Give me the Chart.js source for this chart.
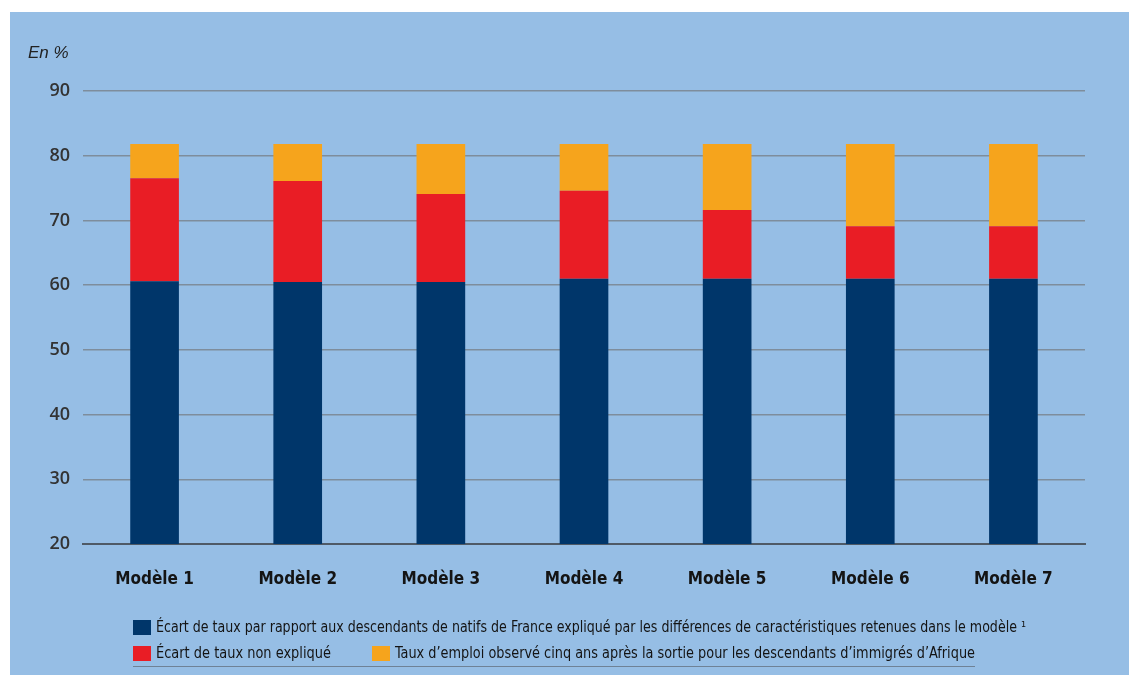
<!DOCTYPE html>
<html>
<head>
<meta charset="utf-8">
<script src="https://cdn.jsdelivr.net/npm/chart.js@4.4.1/dist/chart.umd.min.js"></script>
<style>
  html, body { margin: 0; padding: 0; background: #fff; }
  #wrap { position: relative; width: 1129px; height: 675px; }
</style>
</head>
<body>
<div id="wrap"><canvas id="chart" width="1129" height="675"></canvas></div>
<script>
const categories = ["Modèle 1", "Modèle 2", "Modèle 3", "Modèle 4", "Modèle 5", "Modèle 6", "Modèle 7"];
const ecartExplique = [60.6, 60.5, 60.5, 61.0, 61.0, 61.0, 61.0];
const ecartNonExplique = [15.9, 15.6, 13.6, 13.6, 10.6, 8.1, 8.1];
const tauxEmploi = [5.3, 5.7, 7.7, 7.2, 10.2, 12.7, 12.7];
const yTicks = [20, 30, 40, 50, 60, 70, 80, 90];

const labelExplique = "Écart de taux par rapport aux descendants de natifs de France expliqué par les différences de caractéristiques retenues dans le modèle ¹";
const labelNonExplique = "Écart de taux non expliqué";
const labelTaux = "Taux d’emploi observé cinq ans après la sortie pour les descendants d’immigrés d’Afrique";

const narrow = "'Liberation Sans Narrow', 'DejaVu Sans Condensed', sans-serif";

// panel background + white strip on top
const panelBg = {
    id: "panelBg",
    beforeDraw: function(chart) {
        let ctx = chart.ctx;
        ctx.save();
        ctx.fillStyle = "#ffffff";
        ctx.fillRect(0, 0, chart.width, chart.height);
        ctx.fillStyle = "#96bee5";
        ctx.fillRect(10, 12, chart.width - 10, chart.height - 12);
        ctx.restore();
    }
};

// "En %" unit label and the two-row legend
const extras = {
    id: "extras",
    afterDraw: function(chart) {
        let ctx = chart.ctx;
        ctx.save();
        ctx.fillStyle = "#222";
        ctx.font = "italic 17px 'Liberation Sans', sans-serif";
        ctx.textBaseline = "alphabetic";
        ctx.fillText("En %", 28, 58);

        let slots = [
            {x: 133, y: 620, w: 870},
            {x: 133, y: 646, w: 175},
            {x: 372, y: 646, w: 580}
        ];
        ctx.font = "15px " + narrow;
        ctx.textBaseline = "middle";
        chart.data.datasets.forEach(function(ds, i) {
            let s = slots[i];
            ctx.fillStyle = ds.backgroundColor;
            ctx.fillRect(s.x, s.y, 18, 15);
            let m = ctx.measureText(ds.label).width;
            ctx.save();
            ctx.translate(s.x + 23, s.y + 8);
            ctx.scale(s.w / m, 1);
            ctx.fillStyle = "#141414";
            ctx.fillText(ds.label, 0, 0);
            ctx.restore();
        });

        ctx.strokeStyle = "#6f8296";
        ctx.lineWidth = 1;
        ctx.beginPath();
        ctx.moveTo(133, 666.5);
        ctx.lineTo(975, 666.5);
        ctx.stroke();
        ctx.restore();
    }
};

new Chart(document.getElementById("chart").getContext("2d"), {
    type: "bar",
    data: {
        labels: categories,
        datasets: [
            {label: labelExplique, data: ecartExplique, backgroundColor: "#00366a"},
            {label: labelNonExplique, data: ecartNonExplique, backgroundColor: "#e91d25"},
            {label: labelTaux, data: tauxEmploi, backgroundColor: "#f6a41c"}
        ]
    },
    options: {
        responsive: false,
        animation: false,
        datasets: {
            bar: {barPercentage: 0.34, categoryPercentage: 1}
        },
        layout: {
            padding: {left: 0, right: 44, top: 91, bottom: 76}
        },
        plugins: {
            legend: {display: false},
            tooltip: {enabled: false}
        },
        scales: {
            x: {
                stacked: true,
                grid: {display: false},
                border: {display: true, color: "#4f5a66", width: 2},
                ticks: {
                    color: "#141414",
                    padding: 17,
                    font: {family: narrow, size: 17, weight: "bold"}
                },
                afterFit: function(scale) { scale.height = 55; }
            },
            y: {
                stacked: true,
                min: 20,
                max: 90,
                border: {display: false},
                grid: {
                    drawTicks: false,
                    color: "#7e8d9c",
                    lineWidth: 1.5
                },
                afterBuildTicks: function(scale) {
                    scale.ticks = yTicks.map(function(v) { return {value: v}; });
                },
                ticks: {
                    color: "#333333",
                    padding: 13,
                    font: {family: "'Open Sans', sans-serif", size: 18, weight: "600"}
                },
                afterFit: function(scale) { scale.width = 83; }
            }
        }
    },
    plugins: [panelBg, extras]
});
</script>
</body>
</html>
